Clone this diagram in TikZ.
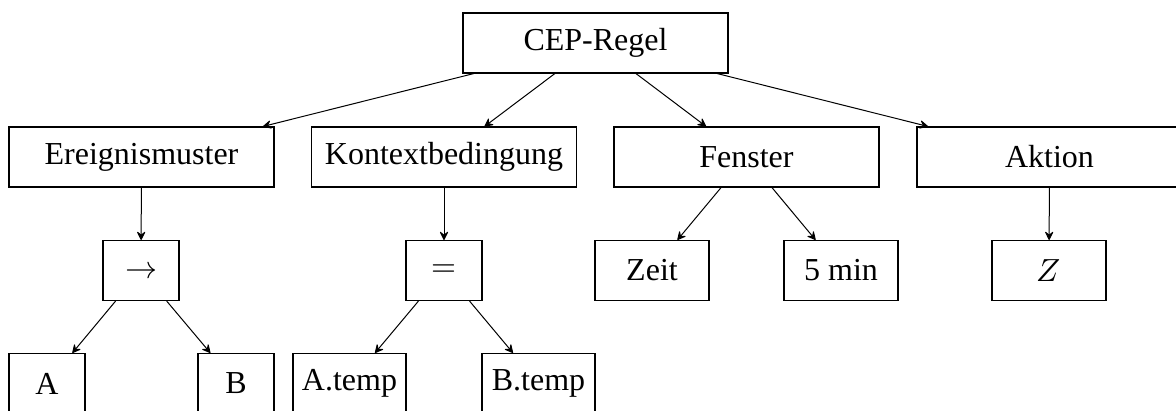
\documentclass[tikz,border=0pt]{standalone}
\usepackage{fontspec}
\usepackage{unicode-math}
\setmainfont{Liberation Serif}
\setmathfont{Latin Modern Math}
\usetikzlibrary{arrows.meta}

\tikzset{
  box/.style={draw, line width=1.1pt, inner sep=0pt, minimum height=60pt,
    font=\fontsize{32}{38}\selectfont},
  wide/.style={box, minimum width=265pt},
  mid/.style={box, minimum width=114pt},
  small/.style={box, minimum width=76pt},
  link/.style={line width=1pt, -{Stealth[length=10pt,width=10pt,inset=4pt,round]}},
}

\begin{document}
\begin{tikzpicture}[x=1pt, y=-1pt]
  \useasboundingbox (0,0) rectangle (1176,410);

  % root
  \node[wide] (rule) at (595.5,43) {CEP-Regel};

  % rule components
  \node[wide] (pattern) at (141.5,157) {Ereignismuster};
  \node[wide] (context) at (444,157)   {Kontextbedingung};
  \node[wide] (window)  at (746.5,157) {Fenster};
  \node[wide] (action)  at (1049.5,157) {Aktion};

  % operators and values
  \node[small] (seq)  at (141,270.5) {$\rightarrow$};
  \node[small] (eq)   at (444,270.5) {$=$};
  \node[mid]   (time) at (652,270.5) {Zeit};
  \node[mid]   (dur)  at (841,270.5) {5 min};
  \node[mid]   (out)  at (1049,270.5) {$Z$};

  % operands
  \node[small] (evA)   at (47,383.5)    {A};
  \node[small] (evB)   at (236,383.5)   {B};
  \node[box, minimum width=113pt] (tempA) at (349.5,383.5) {A.temp};
  \node[box, minimum width=113pt] (tempB) at (538.5,383.5) {B.temp};

  % edges
  \foreach \c in {pattern,context,window,action}
    \draw[link] (rule) -- (\c);
  \draw[link] (pattern) -- (seq);
  \draw[link] (context) -- (eq);
  \draw[link] (window) -- (time);
  \draw[link] (window) -- (dur);
  \draw[link] (action) -- (out);
  \draw[link] (seq) -- (evA);
  \draw[link] (seq) -- (evB);
  \draw[link] (eq) -- (tempA);
  \draw[link] (eq) -- (tempB);
\end{tikzpicture}
\end{document}
